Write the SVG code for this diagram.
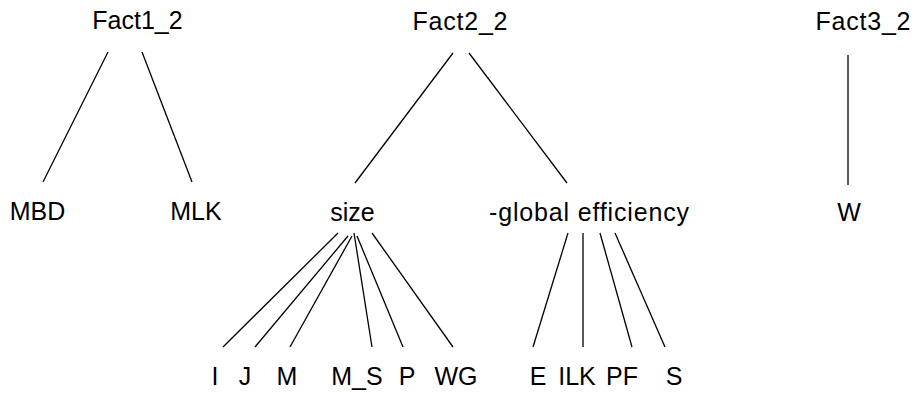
<svg xmlns="http://www.w3.org/2000/svg" width="923" height="393" viewBox="0 0 923 393">
<style>
text{font-family:"Liberation Sans",Arial,sans-serif;font-size:25px;fill:#000;text-anchor:middle}
line{stroke:#000;stroke-width:1.3}
</style>
<rect width="923" height="393" fill="#fff"/>
<g id="connectors">
<line x1="108" y1="52" x2="43" y2="182"/>
<line x1="142" y1="52" x2="192" y2="182"/>
<line x1="453" y1="53" x2="355" y2="183"/>
<line x1="469" y1="53" x2="567" y2="183"/>
<line x1="848" y1="55" x2="848" y2="185"/>
<line x1="338" y1="233" x2="223" y2="347"/>
<line x1="348" y1="236" x2="255" y2="347"/>
<line x1="352" y1="236" x2="290" y2="347"/>
<line x1="354" y1="233" x2="372" y2="347"/>
<line x1="357" y1="236" x2="403" y2="347"/>
<line x1="372" y1="233" x2="453" y2="347"/>
<line x1="568" y1="233" x2="533" y2="347"/>
<line x1="583" y1="233" x2="583" y2="347"/>
<line x1="600" y1="233" x2="632" y2="347"/>
<line x1="615" y1="233" x2="665" y2="347"/>
</g>
<g id="Fact1_2"><text x="137.5" y="29">Fact1_2</text></g>
<g id="Fact2_2"><text x="460" y="30" textLength="95">Fact2_2</text></g>
<g id="Fact3_2"><text x="863" y="30" textLength="95">Fact3_2</text></g>
<g id="MBD"><text x="37.5" y="220">MBD</text></g>
<g id="MLK"><text x="196" y="220">MLK</text></g>
<g id="size"><text x="352.5" y="221">size</text></g>
<g id="global_efficiency"><text x="589" y="221" textLength="200">-global efficiency</text></g>
<g id="W"><text x="849" y="221">W</text></g>
<g id="I"><text x="215" y="385">I</text></g>
<g id="J"><text x="245" y="385">J</text></g>
<g id="M"><text x="287" y="385">M</text></g>
<g id="M_S"><text x="357" y="385">M_S</text></g>
<g id="P"><text x="407" y="385">P</text></g>
<g id="WG"><text x="456" y="385">WG</text></g>
<g id="E"><text x="538" y="385">E</text></g>
<g id="ILK"><text x="577" y="385">ILK</text></g>
<g id="PF"><text x="622" y="385">PF</text></g>
<g id="S"><text x="674" y="385">S</text></g>
</svg>
